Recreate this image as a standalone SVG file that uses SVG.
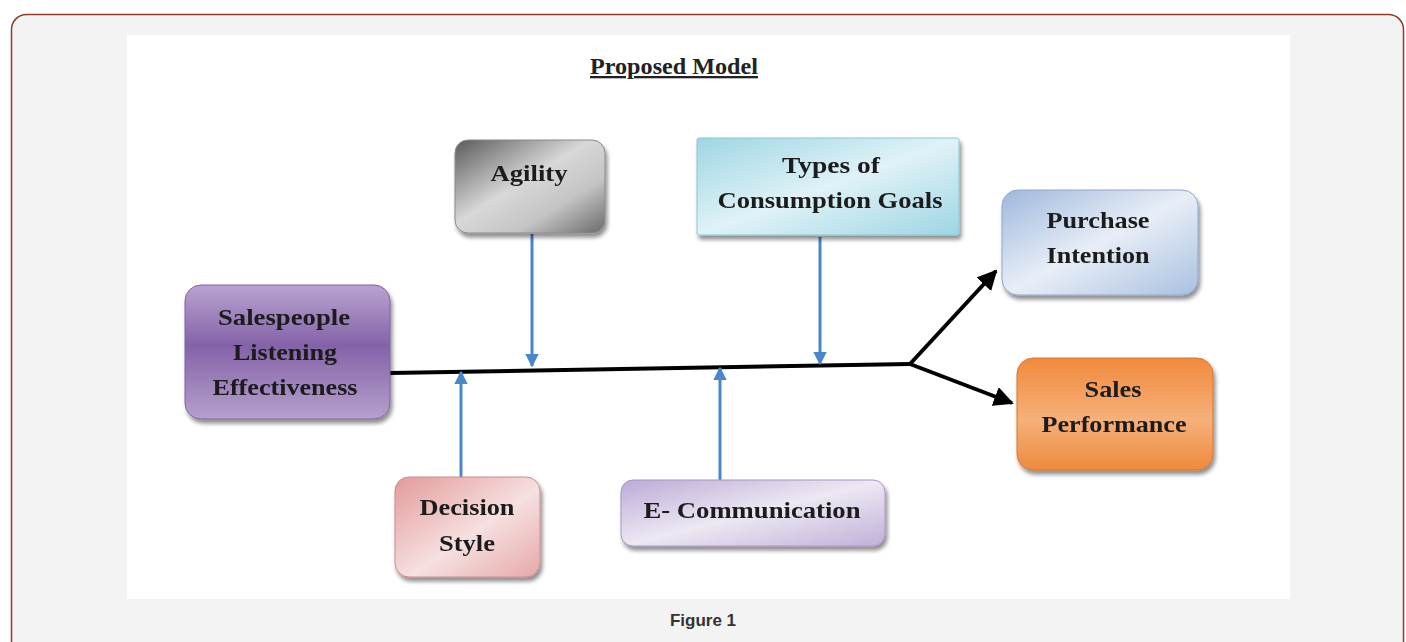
<svg xmlns="http://www.w3.org/2000/svg" width="1406" height="642" viewBox="0 0 1406 642">
<defs>
<style>
.lbl{font-family:"Liberation Serif","Times New Roman",serif;font-weight:bold;font-size:24px;fill:#1a1a1a;text-anchor:middle}
.blue{stroke:#4a86c8;stroke-width:3;fill:none}
.blk{stroke:#000;stroke-width:4;fill:none}
.box{filter:url(#sh)}
</style>
<filter id="sh" x="-10%" y="-10%" width="125%" height="130%">
<feGaussianBlur in="SourceAlpha" stdDeviation="2"/>
<feOffset dx="2" dy="4" result="b"/>
<feComponentTransfer><feFuncA type="linear" slope="0.45"/></feComponentTransfer>
<feMerge><feMergeNode/><feMergeNode in="SourceGraphic"/></feMerge>
</filter>
<linearGradient id="gAg" x1="0" y1="0" x2="1" y2="1">
<stop offset="0" stop-color="#5a5a5a"/><stop offset="0.45" stop-color="#d8d8d8"/><stop offset="0.7" stop-color="#c4c4c4"/><stop offset="1" stop-color="#6a6a6a"/>
</linearGradient>
<linearGradient id="gSp" x1="0" y1="0" x2="0" y2="1">
<stop offset="0" stop-color="#b9a4d0"/><stop offset="0.45" stop-color="#8462a8"/><stop offset="1" stop-color="#b6a0cc"/>
</linearGradient>
<linearGradient id="gTy" x1="0" y1="0" x2="1" y2="1">
<stop offset="0" stop-color="#9fd6e4"/><stop offset="0.5" stop-color="#dff2f7"/><stop offset="1" stop-color="#9ed5e3"/>
</linearGradient>
<linearGradient id="gPu" x1="0" y1="0" x2="1" y2="1">
<stop offset="0" stop-color="#9fb8dc"/><stop offset="0.5" stop-color="#e8eef7"/><stop offset="1" stop-color="#a9c0e0"/>
</linearGradient>
<linearGradient id="gSa" x1="0" y1="0" x2="0" y2="1">
<stop offset="0" stop-color="#f08a3c"/><stop offset="0.55" stop-color="#f6b07a"/><stop offset="1" stop-color="#ee8a3e"/>
</linearGradient>
<linearGradient id="gDe" x1="0" y1="0" x2="1" y2="1">
<stop offset="0" stop-color="#e39a9a"/><stop offset="0.55" stop-color="#f6e0e0"/><stop offset="1" stop-color="#e6a8a8"/>
</linearGradient>
<linearGradient id="gEc" x1="0" y1="0" x2="1" y2="1">
<stop offset="0" stop-color="#bcaad6"/><stop offset="0.5" stop-color="#ede8f3"/><stop offset="1" stop-color="#c0b0d8"/>
</linearGradient>
<marker id="ab" viewBox="0 0 10 10" refX="9" refY="5" markerWidth="4.5" markerHeight="4.5" orient="auto" markerUnits="strokeWidth">
<path d="M0,0 L10,5 L0,10 z" fill="#4a86c8"/>
</marker>
<marker id="ak" viewBox="0 0 10 10" refX="9" refY="5" markerWidth="5" markerHeight="5" orient="auto" markerUnits="strokeWidth">
<path d="M0,0 L10,5 L0,10 z" fill="#000"/>
</marker>
</defs>
<rect x="0" y="0" width="1406" height="642" fill="#fff"/>
<rect x="11.5" y="14.5" width="1392" height="660" rx="15" fill="#f3f3f3" stroke="#8e3b28" stroke-width="1.5"/>
<rect x="127" y="35" width="1163" height="564" fill="#fff"/>
<text x="674" y="74" textLength="168" lengthAdjust="spacingAndGlyphs" style="font-family:'Liberation Serif',serif;font-weight:bold;font-size:23px;fill:#222;text-anchor:middle;text-decoration:underline">Proposed Model</text>
<g id="connectors">
<path class="blk" d="M390,373 L910,364"/>
<path class="blk" d="M910,364 L996,271" marker-end="url(#ak)"/>
<path class="blk" d="M910,364 L1012,403" marker-end="url(#ak)"/>
<path class="blue" d="M532,234 L532,366" marker-end="url(#ab)"/>
<path class="blue" d="M820,237 L820,364" marker-end="url(#ab)"/>
<path class="blue" d="M461,478 L461,372" marker-end="url(#ab)"/>
<path class="blue" d="M720,480 L720,368" marker-end="url(#ab)"/>
</g>
<g id="agility" class="box"><rect x="455" y="140" width="150" height="93" rx="13" fill="url(#gAg)" stroke="#8a8a8a" stroke-width="1"/>
<text class="lbl" x="529" y="181" textLength="77" lengthAdjust="spacingAndGlyphs">Agility</text></g>
<g id="salespeople" class="box"><rect x="185" y="285" width="205" height="134" rx="16" fill="url(#gSp)" stroke="#7d64a0" stroke-width="1"/>
<text class="lbl" x="284" y="325" textLength="132" lengthAdjust="spacingAndGlyphs">Salespeople</text><text class="lbl" x="285" y="360" textLength="104" lengthAdjust="spacingAndGlyphs">Listening</text><text class="lbl" x="285" y="395" textLength="145" lengthAdjust="spacingAndGlyphs">Effectiveness</text></g>
<g id="types" class="box"><rect x="697" y="138" width="262" height="97" rx="2" fill="url(#gTy)" stroke="#8cc6d4" stroke-width="1"/>
<text class="lbl" x="831" y="173" textLength="98" lengthAdjust="spacingAndGlyphs">Types of</text><text class="lbl" x="830" y="208" textLength="225" lengthAdjust="spacingAndGlyphs">Consumption Goals</text></g>
<g id="purchase" class="box"><rect x="1002" y="190" width="196" height="105" rx="16" fill="url(#gPu)" stroke="#8ea8cc" stroke-width="1"/>
<text class="lbl" x="1098" y="228" textLength="103" lengthAdjust="spacingAndGlyphs">Purchase</text><text class="lbl" x="1098" y="263" textLength="103" lengthAdjust="spacingAndGlyphs">Intention</text></g>
<g id="sales" class="box"><rect x="1017" y="358" width="196" height="112" rx="16" fill="url(#gSa)" stroke="#d9772e" stroke-width="1"/>
<text class="lbl" x="1113" y="397" textLength="57" lengthAdjust="spacingAndGlyphs">Sales</text><text class="lbl" x="1114" y="432" textLength="145" lengthAdjust="spacingAndGlyphs">Performance</text></g>
<g id="decision" class="box"><rect x="395" y="477" width="145" height="100" rx="14" fill="url(#gDe)" stroke="#d08a8a" stroke-width="1"/>
<text class="lbl" x="467" y="515" textLength="95" lengthAdjust="spacingAndGlyphs">Decision</text><text class="lbl" x="467" y="551" textLength="56" lengthAdjust="spacingAndGlyphs">Style</text></g>
<g id="ecomm" class="box"><rect x="621" y="480" width="264" height="66" rx="12" fill="url(#gEc)" stroke="#a896c4" stroke-width="1"/>
<text class="lbl" x="752" y="518" textLength="217" lengthAdjust="spacingAndGlyphs">E- Communication</text></g>
<text x="703" y="626" style="font-family:'Liberation Sans',Arial,sans-serif;font-weight:bold;font-size:17px;fill:#333;text-anchor:middle">Figure 1</text>
</svg>
